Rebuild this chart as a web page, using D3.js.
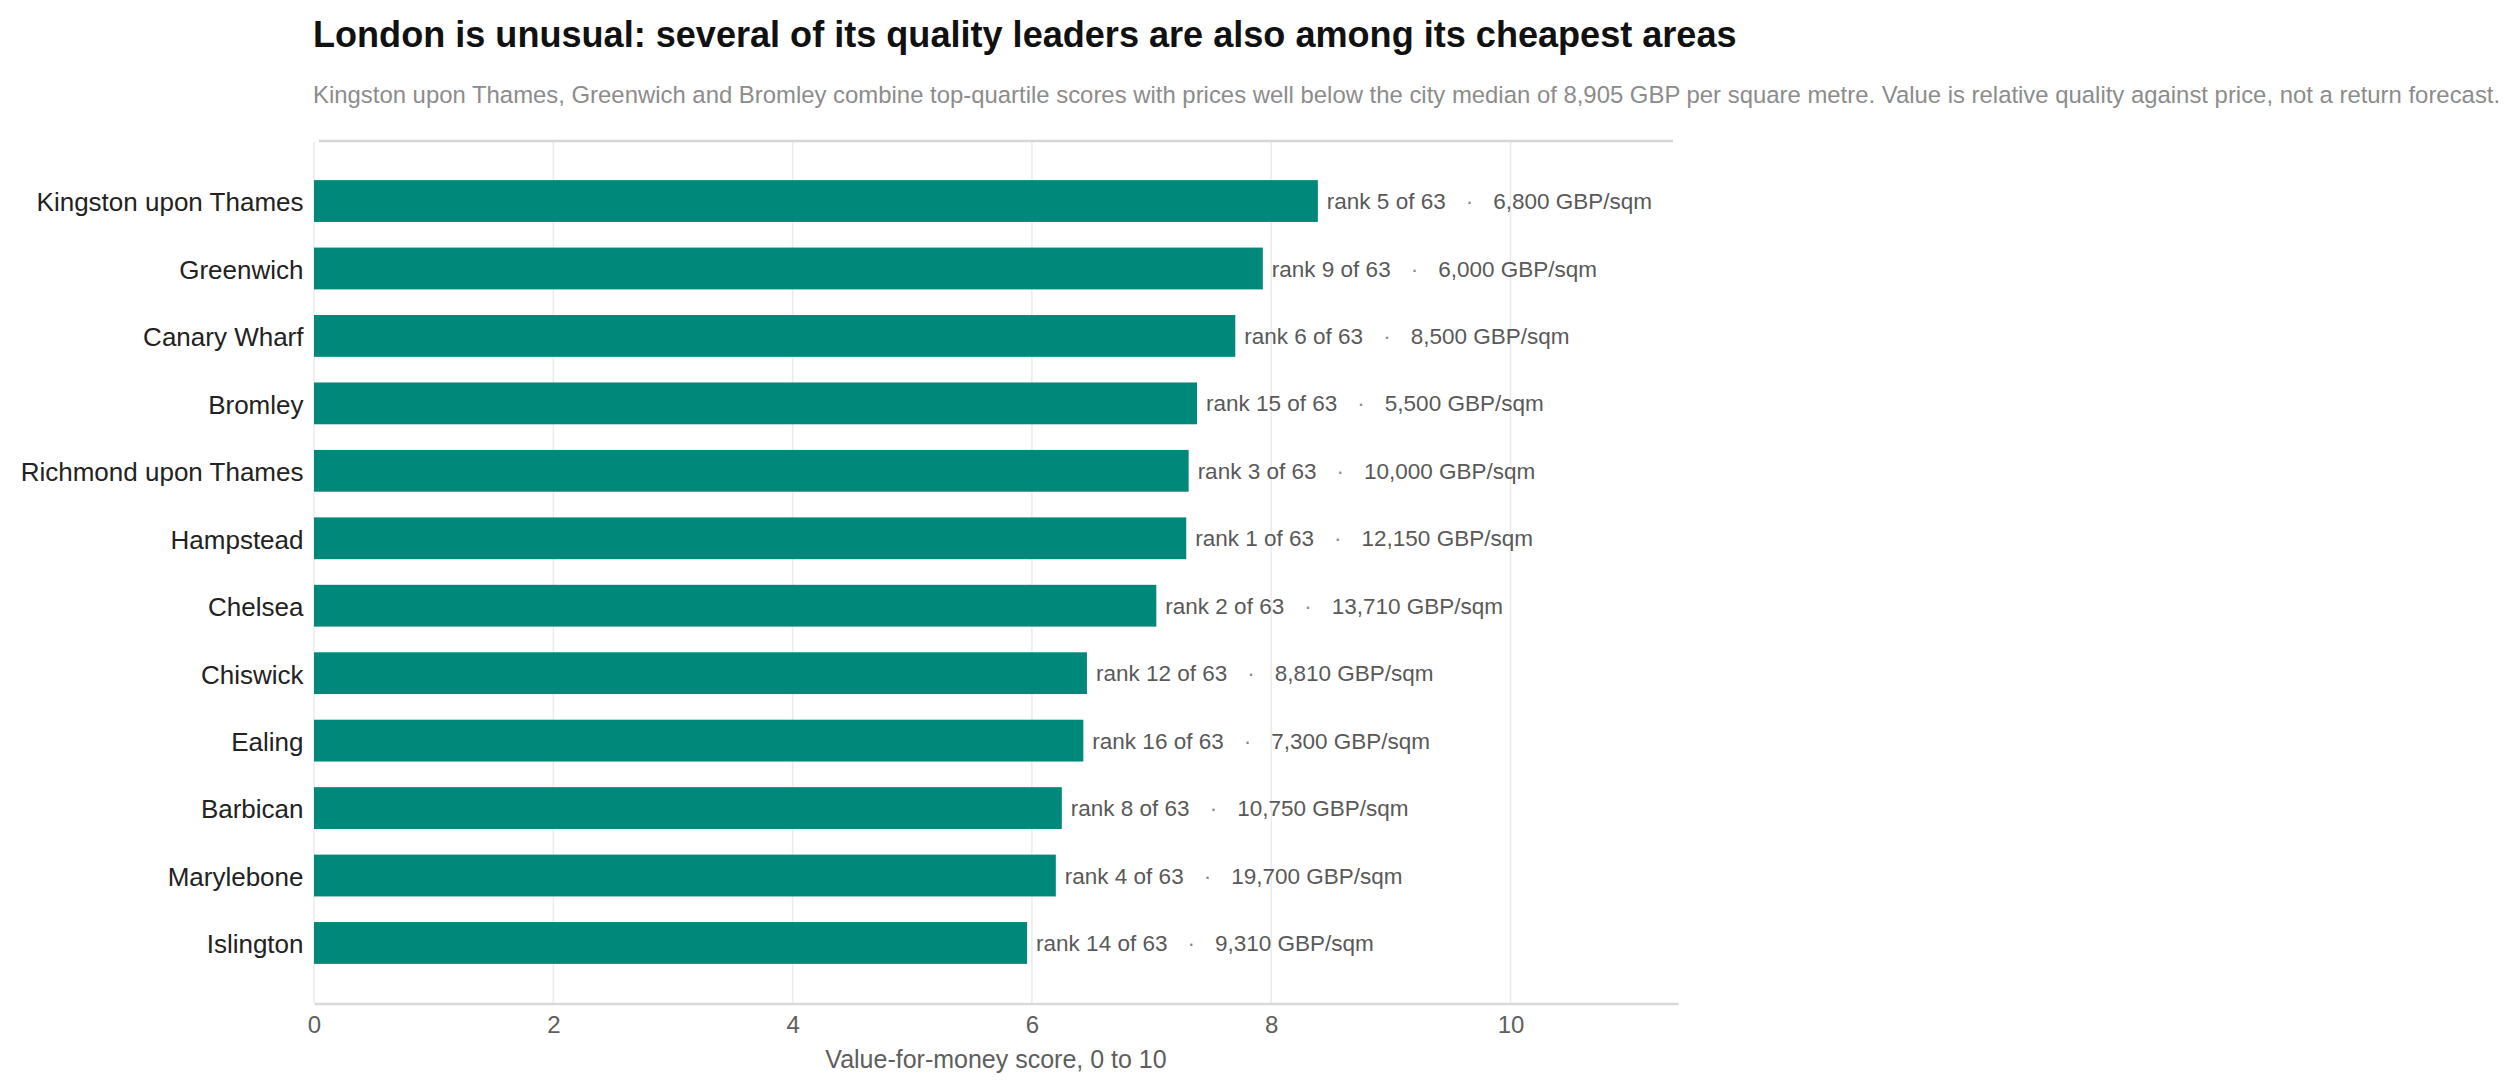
<!DOCTYPE html>
<html>
<head>
<meta charset="utf-8">
<script src="https://cdn.jsdelivr.net/npm/d3@7"></script>
<style>
  html, body { margin: 0; padding: 0; background: #fff; }
  svg { display: block; font-family: "Liberation Sans", Arial, Helvetica, sans-serif; }
</style>
</head>
<body>
<svg id="chart" width="2519" height="1092"></svg>
<script>
const titleText = "London is unusual: several of its quality leaders are also among its cheapest areas";
const subtitleText = "Kingston upon Thames, Greenwich and Bromley combine top-quartile scores with prices well below the city median of 8,905 GBP per square metre. Value is relative quality against price, not a return forecast.";
const axisTitle = "Value-for-money score, 0 to 10";

const areas = ["Kingston upon Thames", "Greenwich", "Canary Wharf", "Bromley", "Richmond upon Thames", "Hampstead", "Chelsea", "Chiswick", "Ealing", "Barbican", "Marylebone", "Islington"];
const scores = [8.39, 7.93, 7.70, 7.38, 7.31, 7.29, 7.04, 6.46, 6.43, 6.25, 6.20, 5.96];
const ranks = [5, 9, 6, 15, 3, 1, 2, 12, 16, 8, 4, 14];
const prices = [6800, 6000, 8500, 5500, 10000, 12150, 13710, 8810, 7300, 10750, 19700, 9310];
const totalAreas = 63;
const xTicks = [0, 2, 4, 6, 8, 10];

const svg = d3.select("#chart");
const plotL = 314, plotR = 1678, plotT = 141, plotB = 1003;

const x = d3.scaleLinear().domain([0, 11.4]).range([plotL, plotR]);
const y = d3.scaleBand().domain(areas).range([plotT, plotB]).paddingInner(0.38).paddingOuter(0.58);

// title & subtitle
svg.append("text").attr("x", 313).attr("y", 47)
  .attr("font-size", 36.1).attr("font-weight", "bold").attr("fill", "#111")
  .text(titleText);
svg.append("text").attr("x", 313).attr("y", 102.5)
  .attr("font-size", 23.9).attr("fill", "#8c8c8c")
  .text(subtitleText);

// gridlines
svg.append("g").selectAll("line").data(xTicks).join("line")
  .attr("x1", d => x(d)).attr("x2", d => x(d))
  .attr("y1", plotT + 1).attr("y2", plotB)
  .attr("stroke", "#ebebeb").attr("stroke-width", 1.5);

// top rule
svg.append("line").attr("x1", 319).attr("x2", 1673).attr("y1", plotT).attr("y2", plotT)
  .attr("stroke", "#d6d6d6").attr("stroke-width", 2.5);

// bottom axis
const xAxis = d3.axisBottom(x).tickValues(xTicks).tickSize(0).tickPadding(12).tickFormat(d3.format("d"));
const gx = svg.append("g").attr("transform", `translate(0,${plotB + 0.5})`).call(xAxis);
gx.select(".domain").attr("stroke", "#d9d9d9").attr("stroke-width", 2.5);
gx.selectAll(".tick text").attr("font-size", 24).attr("fill", "#5e5e5e")
  .attr("font-family", "Liberation Sans, Arial, sans-serif").attr("dy", "0.73em");

svg.append("text").attr("x", (plotL + plotR) / 2).attr("y", 1067.5)
  .attr("text-anchor", "middle").attr("font-size", 25).attr("fill", "#5e5e5e")
  .text(axisTitle);

// bars
svg.append("g").selectAll("rect").data(areas).join("rect")
  .attr("x", x(0)).attr("y", d => y(d))
  .attr("width", (d, i) => x(scores[i]) - x(0))
  .attr("height", y.bandwidth())
  .attr("fill", "#00897b");

// category labels
svg.append("g").selectAll("text").data(areas).join("text")
  .attr("x", 303.5).attr("y", d => y(d) + y.bandwidth() / 2)
  .attr("dy", "0.4em").attr("text-anchor", "end")
  .attr("font-size", 26).attr("fill", "#222")
  .text(d => d);

// value labels
const fmt = d3.format(",");
const vl = svg.append("g").selectAll("text").data(areas).join("text")
  .attr("x", (d, i) => x(scores[i]) + 9)
  .attr("y", d => y(d) + y.bandwidth() / 2)
  .attr("dy", "0.36em")
  .attr("font-size", 22.5).attr("fill", "#595959");
vl.append("tspan").text((d, i) => `rank ${ranks[i]} of ${totalAreas}`);
vl.append("tspan").attr("dx", 20).attr("fill", "#888").text("·");
vl.append("tspan").attr("dx", 20).text((d, i) => `${fmt(prices[i])} GBP/sqm`);
</script>
</body>
</html>
